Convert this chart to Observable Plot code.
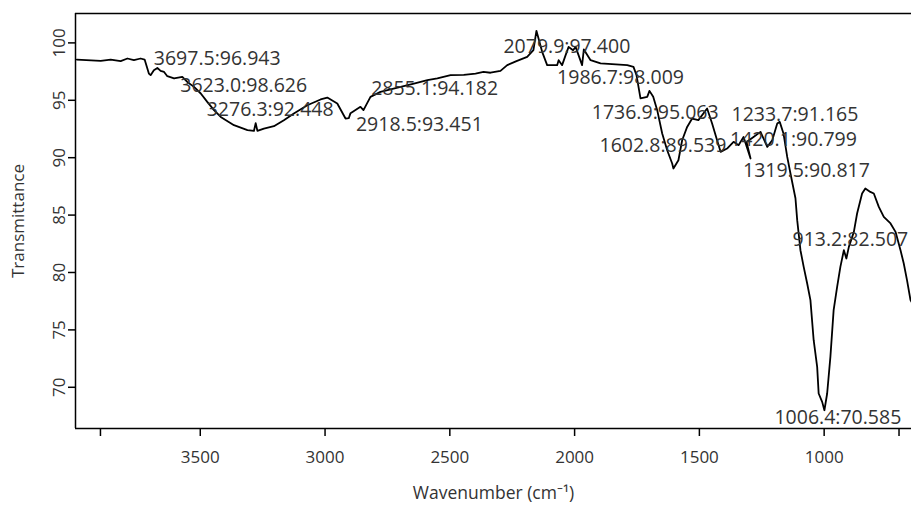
<!DOCTYPE html>
<html><head><meta charset="utf-8">
<script src="https://cdn.jsdelivr.net/npm/d3@7"></script>
<script src="https://cdn.jsdelivr.net/npm/@observablehq/plot@0.6"></script>
<style>body{margin:0;background:#fff;overflow:hidden;}</style>
</head><body><div id="chart"></div>
<script>
const wavenumber = [3995,3899,3859,3819,3792,3766,3739,3723,3706,3699,3686,3672,3659,3645,3632,3605,3572,3552,3525,3498,3472,3445,3418,3365,3311,3285,3278,3271,3245,3205,3165,3125,3071,3018,2991,2951,2918,2905,2898,2858,2846,2818,2778,2697,2644,2590,2550,2497,2444,2397,2365,2337,2297,2270,2233,2190,2165,2153,2130,2110,2070,2064,2050,2036,2024,2006,1996,1970,1963,1936,1896,1789,1764,1752,1736,1709,1700,1685,1669,1649,1629,1609,1604,1584,1569,1549,1529,1504,1469,1449,1429,1415,1389,1363,1343,1323,1308,1295,1311,1283,1255,1228,1208,1188,1178,1163,1148,1135,1115,1108,1095,1082,1068,1055,1042,1028,1022,1008,999,988,975,962,948,935,921,911,901,881,868,848,835,815,801,781,761,734,714,694,681,668,654,642];
const transmittance = [98.55,98.43,98.55,98.41,98.64,98.49,98.64,98.55,97.33,97.19,97.62,97.82,97.56,97.47,97.10,96.90,97.04,96.60,96.17,95.59,94.86,94.14,93.55,92.83,92.40,92.33,93.01,92.34,92.54,92.74,93.27,93.85,94.57,95.07,95.24,94.72,93.41,93.44,93.88,94.43,94.14,95.30,95.73,96.17,96.46,96.75,96.90,97.19,97.21,97.33,97.47,97.40,97.56,98.06,98.41,98.78,99.36,101.05,99.22,98.06,98.06,98.49,98.06,98.93,99.65,99.36,99.65,98.06,99.43,98.49,98.21,98.06,97.91,97.19,95.16,95.30,95.82,95.30,94.14,92.11,90.65,89.49,89.06,89.78,91.52,92.68,93.41,93.27,94.29,92.98,91.52,90.51,90.80,91.38,91.09,91.81,90.80,89.93,91.37,91.81,92.25,90.94,91.52,92.98,93.12,92.11,90.07,88.62,86.47,84.56,81.94,80.49,79.04,77.59,74.10,71.78,69.46,68.73,68.00,69.46,72.65,76.72,78.75,80.49,81.94,81.22,82.23,83.54,85.14,86.88,87.32,87.02,86.88,85.71,84.84,84.27,83.54,81.94,80.78,79.33,77.59,77.15];

const peakLabels = ["3697.5:96.943","3623.0:98.626","3276.3:92.448","2855.1:94.182","2918.5:93.451","2079.9:97.400","1986.7:98.009","1736.9:95.063","1602.8:89.539","1233.7:91.165","1420.1:90.799","1319.5:90.817","913.2:82.507","1006.4:70.585"];
const peakLabelX = [3432,3326,3220,2561,2622,2031,1816,1677,1646,1117,1123,1071,895,945];
const peakLabelY = [98.62,96.27,94.18,96.01,92.87,99.63,96.93,93.92,91.00,93.75,91.57,88.82,82.81,67.31];

const xTicks = [3900,3500,3000,2500,2000,1500,1000,700];
const xTickLabels = ["","3500","3000","2500","2000","1500","1000",""];
const yTicks = [70,75,80,85,90,95,100];
const xDomain = [4000, 650];
const yDomain = [66.41, 102.56];
const xTitle = "Wavenumber (cm⁻¹)";
const yTitle = "Transmittance";

const spectrum = wavenumber.map((w, i) => ({w, t: transmittance[i]}));
const labels = peakLabels.map((s, i) => ({s, x: peakLabelX[i], y: peakLabelY[i]}));

const chart = Plot.plot({
  width: 911, height: 510,
  marginLeft: 75, marginRight: 0, marginTop: 13, marginBottom: 82,
  style: {fontFamily: "'Open Sans', sans-serif", fontSize: "17px", background: "#fff", color: "#000"},
  x: {domain: xDomain},
  y: {domain: yDomain},
  marks: [
    Plot.line(spectrum, {x: "w", y: "t", stroke: "#000", strokeWidth: 1.8, clip: true}),
    Plot.text(labels, {x: "x", y: "y", text: "s", fill: "#333", fontSize: 19.5, textAnchor: "middle"}),
    Plot.ruleX([xDomain[0]], {stroke: "#000", strokeWidth: 1.5}),
    Plot.ruleY(yDomain, {stroke: "#000", strokeWidth: 1.5}),
    Plot.axisX({ticks: xTicks, tickFormat: d => xTickLabels[xTicks.indexOf(d)], tickSize: 8, tickPadding: 14, label: null, stroke: "#000", fill: "#333", strokeWidth: 1.5}),
    Plot.axisY({ticks: yTicks, tickSize: 7, tickFormat: () => "", label: null, stroke: "#000", strokeWidth: 1.5}),
    Plot.text(yTicks, {y: d => d, frameAnchor: "left", textAnchor: "middle", rotate: -90, dx: -16, text: d => String(d), fill: "#333", fontSize: 17}),
    Plot.text([xTitle], {frameAnchor: "bottom", dy: 70, text: d => d, fontSize: 17.5, fill: "#333"}),
    Plot.text([yTitle], {frameAnchor: "left", textAnchor: "middle", dx: -57, rotate: -90, text: d => d, fontSize: 17, fill: "#333"})
  ]
});
document.getElementById("chart").append(chart);
</script>
</body></html>
